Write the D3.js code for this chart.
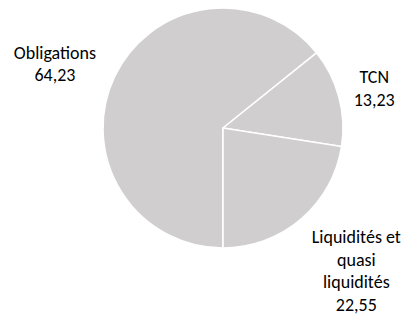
<!DOCTYPE html>
<html>
<head>
<meta charset="utf-8">
<script src="https://cdn.jsdelivr.net/npm/d3@7"></script>
<style>
  html, body { margin: 0; padding: 0; background: #fff; }
  svg { display: block; }
</style>
</head>
<body>
<svg id="chart" width="416" height="316"></svg>
<script>
// ---- data ----
const categories = ["Obligations", "TCN", "Liquidités et quasi liquidités"];
const categoryLines = [["Obligations"], ["TCN"], ["Liquidités et", "quasi", "liquidités"]];
const values = [64.23, 13.23, 22.55];

// ---- layout ----
const W = 416, H = 316;
const cx = 223, cy = 128, R = 120;
const fontSize = 18, lineH = 22.6, gap = 14;
const labelNudge = [[-5, 14], [-2, 1], [5, -7]];
const fill = "#d0cece";

const fr = d3.formatLocale({decimal: ",", thousands: " ", grouping: [3], currency: ["", " €"]});
const fmt = fr.format(".2f");

const svg = d3.select("#chart");
const g = svg.append("g").attr("transform", `translate(${cx},${cy})`);

const pie = d3.pie().sort(null).value(d => d.v)
  .startAngle(Math.PI).endAngle(3 * Math.PI);
const arcs = pie(categories.map((c, i) => ({c, v: values[i], lines: categoryLines[i], i})));
const arc = d3.arc().innerRadius(0).outerRadius(R);

g.selectAll("path.slice").data(arcs).join("path")
  .attr("class", "slice")
  .attr("d", arc)
  .attr("fill", fill)
  .attr("stroke", "#fff")
  .attr("stroke-width", 1.6)
  .attr("stroke-linejoin", "round");

// labels placed outside end along the mid angle
const lg = g.selectAll("g.lbl").data(arcs).join("g").attr("class", "lbl");
lg.each(function(d) {
  const grp = d3.select(this);
  const lines = d.data.lines.concat([fmt(d.data.v)]);
  const t = grp.append("text")
    .attr("text-anchor", "middle")
    .attr("font-family", "Carlito, Calibri, Lato, sans-serif")
    .attr("font-size", fontSize)
    .attr("fill", "#000");
  lines.forEach((s, i) => {
    t.append("tspan").attr("x", 0).attr("y", i * lineH).text(s);
  });
  const bb = t.node().getBBox();
  const w = bb.width, h = lines.length * lineH;
  const a = (d.startAngle + d.endAngle) / 2;
  const ux = Math.sin(a), uy = -Math.cos(a);
  let lo = 0, hi = 400;
  for (let k = 0; k < 50; k++) {
    const s = (lo + hi) / 2;
    const bx = s * ux, by = s * uy;
    const x0 = bx - w / 2, x1 = bx + w / 2, y0 = by - h / 2, y1 = by + h / 2;
    const nx = Math.max(x0, Math.min(0, x1)), ny = Math.max(y0, Math.min(0, y1));
    if (Math.hypot(nx, ny) < R + gap) lo = s; else hi = s;
  }
  const bx = hi * ux, by = hi * uy;
  const top = by - h / 2;
  const [nx, ny] = labelNudge[d.data.i];
  t.attr("transform", `translate(${bx + nx},${top + lineH * 0.78 + ny})`);
});
</script>
</body>
</html>
